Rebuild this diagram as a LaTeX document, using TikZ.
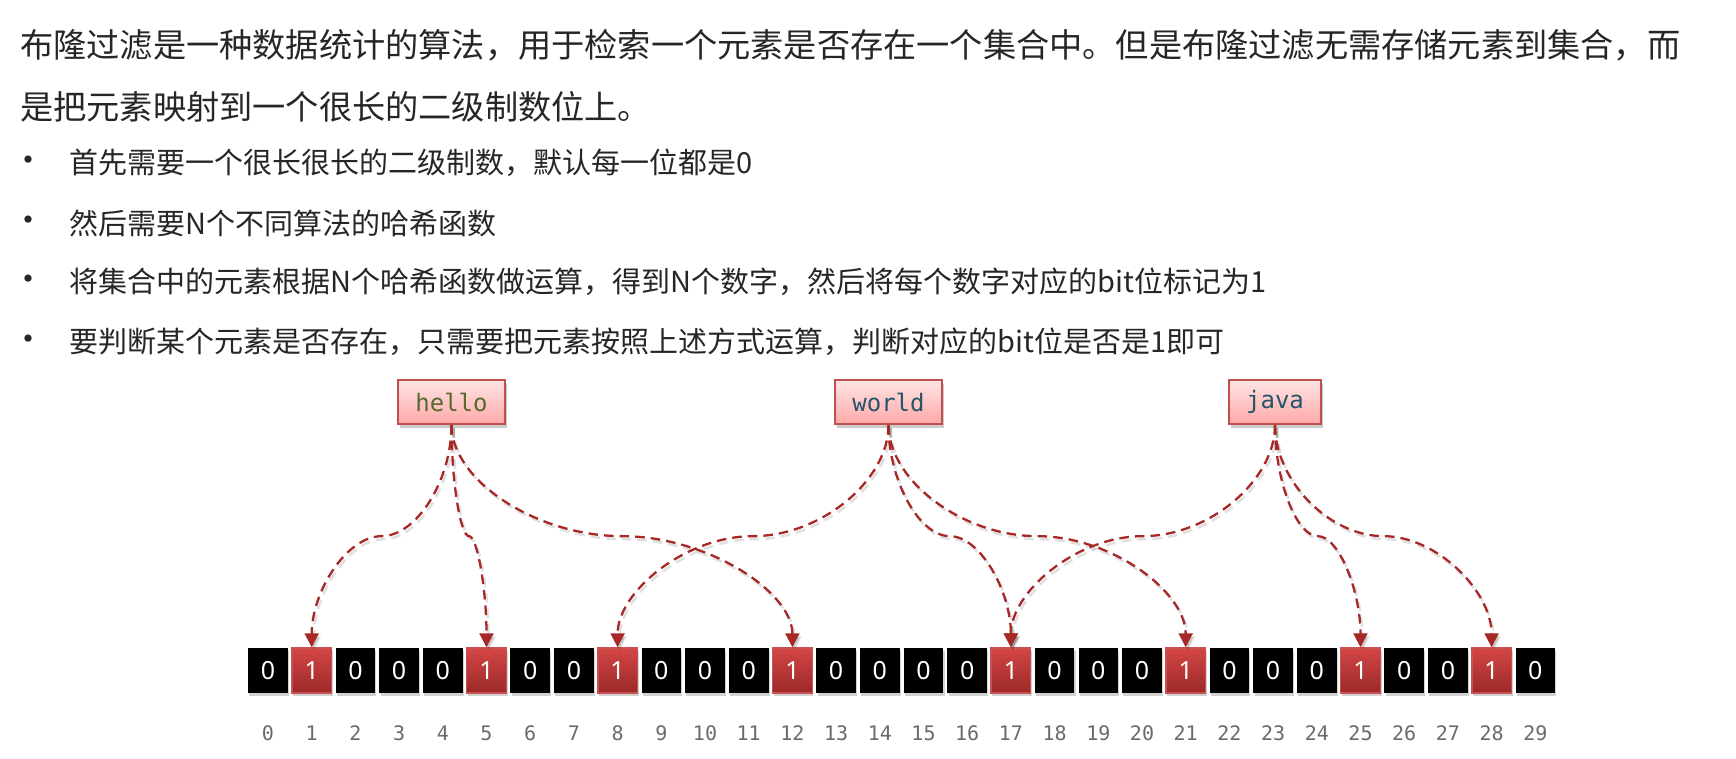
\documentclass[tikz,border=0pt]{standalone}
\usepackage{fontspec}
\setmainfont{Noto Sans CJK SC}
\newfontfamily\monofont{DejaVu Sans Mono}
\newfontfamily\cellfont{Noto Sans}
\usetikzlibrary{arrows.meta,shadows,calc}
\definecolor{txt}{HTML}{262626}
\definecolor{arrowred}{HTML}{A82828}
\definecolor{boxtop}{HTML}{FFE4E4}
\definecolor{boxbot}{HTML}{FFA8A8}
\definecolor{boxborder}{HTML}{C0504D}
\definecolor{redtop}{HTML}{D44646}
\definecolor{redbot}{HTML}{9C2828}
\definecolor{redborder}{HTML}{C85252}
\definecolor{hellocol}{HTML}{566A2E}
\definecolor{tealcol}{HTML}{23566A}
\definecolor{idxcol}{HTML}{6A6A6A}
\tikzset{
  head/.style={inner sep=0pt, anchor=west, text=txt, font=\fontsize{16.6pt}{20pt}\selectfont},
  bul/.style={inner sep=0pt, text=txt, font=\fontsize{17pt}{19pt}\selectfont},
  btxt/.style={inner sep=0pt, anchor=west, text=txt, font=\fontsize{14.5pt}{17pt}\selectfont},
  cellbase/.style={rectangle, inner sep=0pt, minimum width=19.8pt, minimum height=22.5pt,
    text=white, font=\cellfont\fontsize{12.5pt}{14pt}\selectfont,
    drop shadow={shadow xshift=0.6pt, shadow yshift=-1.6pt, fill=black, opacity=0.18}},
  cell0/.style={cellbase, fill=black},
  cell1/.style={cellbase, top color=redtop, bottom color=redbot, draw=redborder, line width=0.7pt},
  idx/.style={inner sep=0pt, text=idxcol, font=\monofont\fontsize{10pt}{12pt}\selectfont},
  wordbox/.style={rectangle, inner sep=0pt, minimum width=53.5pt, minimum height=22pt,
    top color=boxtop, bottom color=boxbot, draw=boxborder, line width=1pt,
    font=\monofont\fontsize{12pt}{14pt}\selectfont,
    drop shadow={shadow xshift=1pt, shadow yshift=-1.8pt, fill=black, opacity=0.2}},
  curvconn/.style={to path={
    let \p1=(\tikztostart), \p2=(\tikztotarget) in
    .. controls (\x1,{0.75*\y1+0.25*\y2}) and ({0.75*\x1+0.25*\x2},{0.5*\y1+0.5*\y2})
    .. ({0.5*\x1+0.5*\x2},{0.5*\y1+0.5*\y2})
    .. controls ({0.25*\x1+0.75*\x2},{0.5*\y1+0.5*\y2}) and (\x2,{0.25*\y1+0.75*\y2})
    .. (\x2,\y2)}},
  conn/.style={draw=arrowred, line width=1.15pt, dash pattern=on 4.8pt off 3pt,
    -{Triangle[length=7pt,width=7pt]}, curvconn},
  connshadow/.style={draw=black, opacity=0.12, line width=1.3pt, dash pattern=on 4.8pt off 3pt,
    -{Triangle[length=7pt,width=7pt]}, curvconn, transform canvas={xshift=1pt,yshift=-1.5pt}}
}
\begin{document}
\begin{tikzpicture}[x=0.5pt,y=-0.5pt]
\useasboundingbox (0,0) rectangle (1736,759);
\fill[white] (0,0) rectangle (1736,759);

% heading
\node[head] (l1) at (20,45) {布隆过滤是一种数据统计的算法，用于检索一个元素是否存在一个集合中。但是布隆过滤无需存储元素到集合，而};
\node[head] (l2) at (20,107) {是把元素映射到一个很长的二级制数位上。};

% bullets
\node[bul] (d1) at (28,164) {•};
\node[btxt] (t1) at (69,163) {首先需要一个很长很长的二级制数，默认每一位都是0};
\node[bul] (d2) at (28,224) {•};
\node[btxt] (t2) at (69,223) {然后需要N个不同算法的哈希函数};
\node[bul] (d3) at (28,283) {•};
\node[btxt] (t3) at (69,282) {将集合中的元素根据N个哈希函数做运算，得到N个数字，然后将每个数字对应的bit位标记为1};
\node[bul] (d4) at (28,343) {•};
\node[btxt] (t4) at (69,342) {要判断某个元素是否存在，只需要把元素按照上述方式运算，判断对应的bit位是否是1即可};

% bit cells
\foreach \i/\v in {0/0,1/1,2/0,3/0,4/0,5/1,6/0,7/0,8/1,9/0,10/0,11/0,12/1,13/0,14/0,15/0,16/0,17/1,18/0,19/0,20/0,21/1,22/0,23/0,24/0,25/1,26/0,27/0,28/1,29/0}{
  \node[cell\v] (c\i) at ({268+43.7*\i},670.5) {\v};
  \node[idx] (n\i) at ({268+43.7*\i},733) {\i};
}

% word boxes
\node[wordbox, text=hellocol] (hello) at (451.5,402) {hello};
\node[wordbox, text=tealcol] (world) at (888.5,402) {world};
\node[wordbox, text=tealcol, minimum width=46pt] (java) at (1275,402) {java};

% connectors
\foreach \s/\t in {hello/c1,hello/c5,hello/c12,world/c8,world/c17,world/c21,java/c17,java/c25,java/c28}{
  \draw[connshadow] (\s.south) to (\t.north);
}
\foreach \s/\t in {hello/c1,hello/c5,hello/c12,world/c8,world/c17,world/c21,java/c17,java/c25,java/c28}{
  \draw[conn] (\s.south) to (\t.north);
}
\end{tikzpicture}
\end{document}
